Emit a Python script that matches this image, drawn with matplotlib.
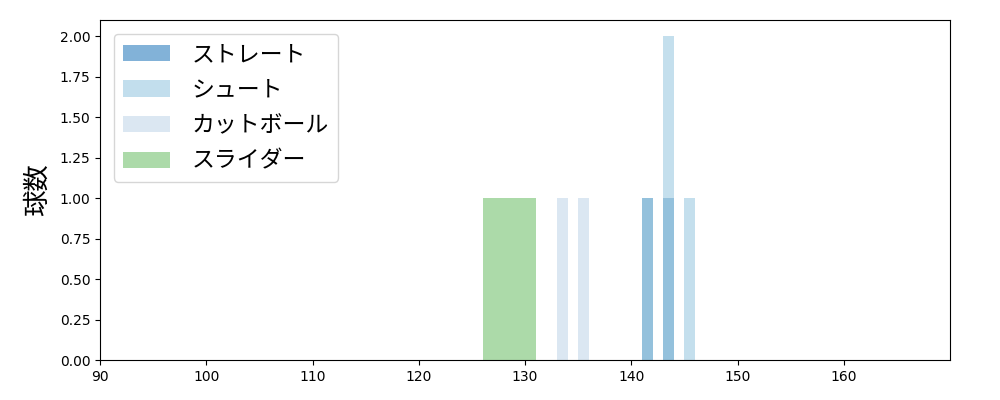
import matplotlib
matplotlib.use("Agg")
import matplotlib.pyplot as plt
from matplotlib.patches import Patch

plt.rcParams['font.family'] = ['Noto Sans CJK JP', 'DejaVu Sans']

labels = ["ストレート", "シュート", "カットボール", "スライダー"]
bar_colors = ["#94c1dc", "#c4dfed", "#dbe7f2", "#acdaa9"]
legend_colors = ["#82b2d8", "#c2deed", "#dbe7f2", "#acdaa9"]

# bin left edges, widths and counts for each pitch type
straight_left = [141, 143]
straight_width = [1, 1]
straight_count = [1, 1]

shoot_left = [143, 145]
shoot_width = [1, 1]
shoot_count = [2, 1]

cut_left = [133, 135]
cut_width = [1, 1]
cut_count = [1, 1]

slider_left = [126]
slider_width = [5]
slider_count = [1]

xticks = [90, 100, 110, 120, 130, 140, 150, 160]
yticks = [0.0, 0.25, 0.5, 0.75, 1.0, 1.25, 1.5, 1.75, 2.0]

fig = plt.figure(figsize=(10, 4), dpi=100)
ax = fig.add_axes([0.1, 0.1, 0.85, 0.85])

series = [
    (shoot_left, shoot_width, shoot_count, bar_colors[1]),
    (cut_left, cut_width, cut_count, bar_colors[2]),
    (slider_left, slider_width, slider_count, bar_colors[3]),
    (straight_left, straight_width, straight_count, bar_colors[0]),
]
for left, width, count, c in series:
    ax.bar(left, count, width=width, align='edge', color=c, linewidth=0)

ax.set_xlim(90, 170)
ax.set_ylim(0, 2.1)
ax.set_xticks(xticks)
ax.set_yticks(yticks)
ax.set_xticklabels([str(v) for v in xticks], family=['DejaVu Sans'], fontsize=10)
ax.set_yticklabels([f"{v:.2f}" for v in yticks], family=['DejaVu Sans'], fontsize=10)
ax.set_ylabel("球数", fontsize=19, labelpad=6)

handles = [Patch(facecolor=c, edgecolor='none') for c in legend_colors]
ax.legend(handles, labels, loc='upper left', fontsize=16.5, frameon=True,
          handlelength=2.05, handletextpad=0.95, labelspacing=0.55,
          borderaxespad=0.6)

fig.savefig("out.png", dpi=100)
